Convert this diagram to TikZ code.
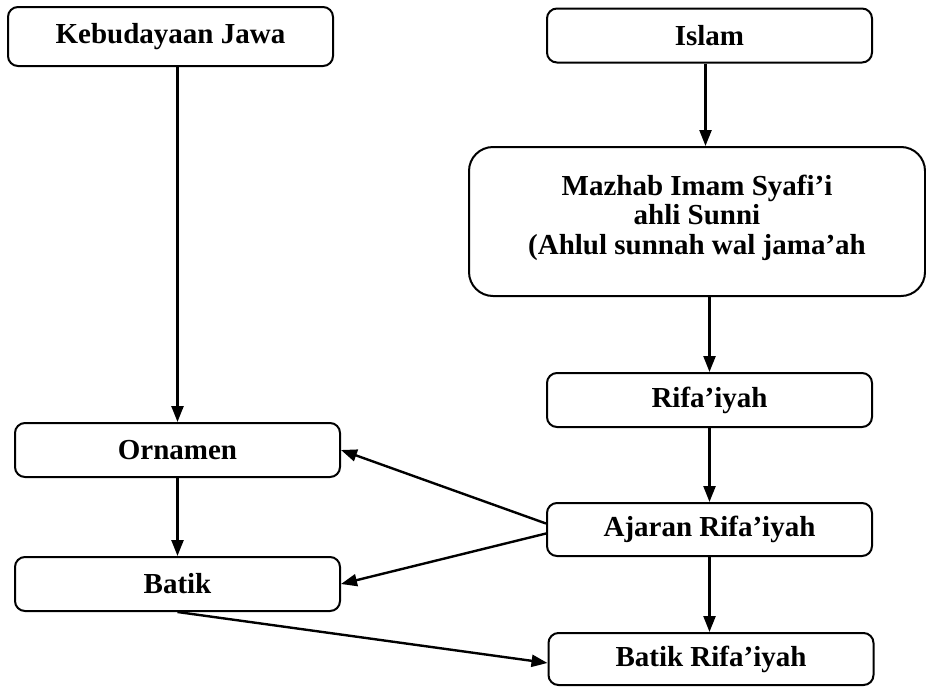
\documentclass[tikz,border=0pt]{standalone}
\usepackage{fontspec}
\setmainfont{Liberation Serif}
\usetikzlibrary{arrows.meta}

\begin{document}
\begin{tikzpicture}[x=0.5pt, y=-0.5pt, >={Triangle[length=8pt,width=6pt]},
  box/.style={draw, line width=1pt, rounded corners=5pt, minimum width=162.5pt,
    minimum height=27pt, inner sep=0pt, font=\bfseries\fontsize{14.5}{14.8}\selectfont},
  arr/.style={->, line width=1.2pt}]
  \useasboundingbox (0,0) rectangle (926,686);

  % Left column
  \node[box, minimum height=29.5pt] (jawa) at (170.5,36.5) {Kebudayaan Jawa};
  \node[box] (ornamen) at (177.5,450) {Ornamen};
  \node[box] (batik) at (177.5,584) {Batik};

  % Right column
  \node[box] (islam) at (709.5,35.5) {Islam};
  \node[box, minimum width=228pt, minimum height=74.5pt, rounded corners=12pt, align=center,
    text depth=7pt] (mazhab) at (697,221.5) {Mazhab Imam Syafi’i\\ahli Sunni\\(Ahlul sunnah wal jama’ah};
  \node[box] (rifa) at (709.5,400) {Rifa’iyah};
  \node[box, minimum height=26.5pt] (ajaran) at (709.5,529.5) {Ajaran Rifa’iyah};
  \node[box, minimum height=26pt] (batikrif) at (711,659) {Batik Rifa’iyah};

  % Vertical arrows
  \draw[arr] (jawa.south -| ornamen.north) -- (ornamen.north);
  \draw[arr] (ornamen) -- (batik);
  \draw[arr] ([xshift=-2pt]islam.south) -- ([xshift=-2pt]islam.south |- mazhab.north);
  \draw[arr] (mazhab.south -| rifa.north) -- (rifa.north);
  \draw[arr] (rifa) -- (ajaran);
  \draw[arr] (ajaran.south) -- (ajaran.south |- batikrif.north);

  % Cross arrows
  \draw[arr] ([yshift=3pt]ajaran.west) -- (ornamen.east);
  \draw[arr] ([yshift=-2pt]ajaran.west) -- (batik.east);
  \draw[arr] (batik.south) -- ([yshift=-2pt]batikrif.west);
\end{tikzpicture}
\end{document}
